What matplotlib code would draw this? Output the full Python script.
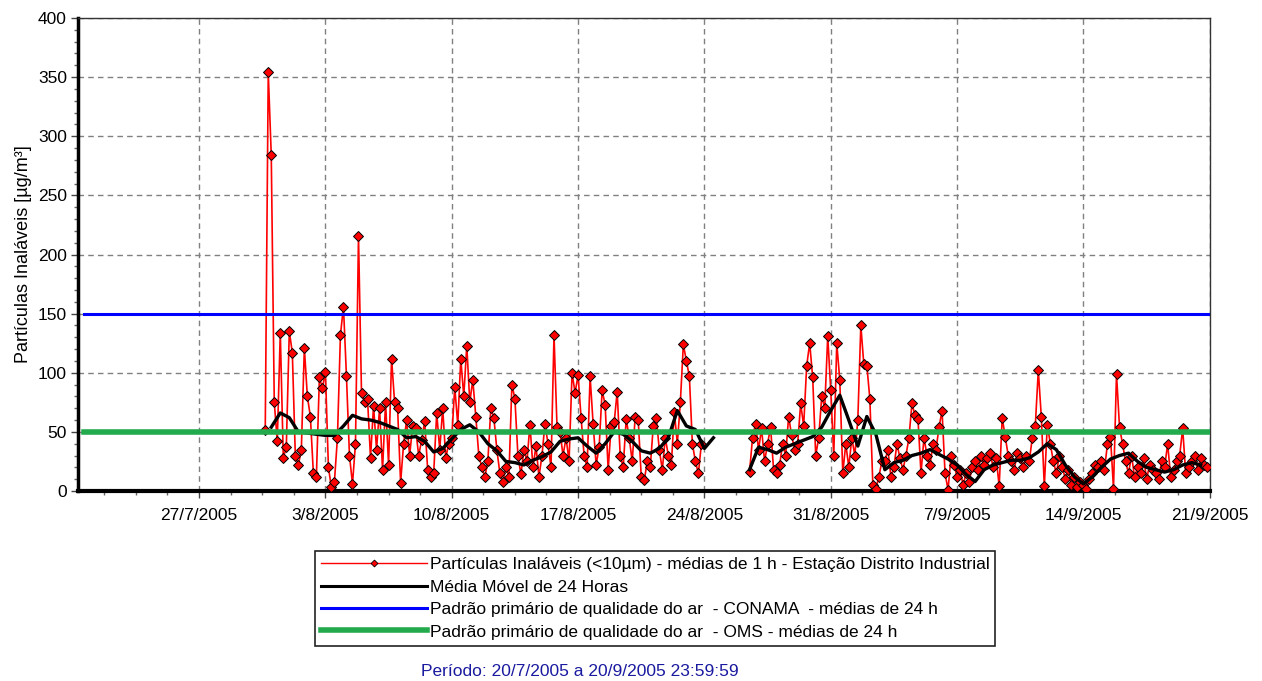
import matplotlib
matplotlib.use("Agg")
import matplotlib.pyplot as plt
import matplotlib.dates as mdates
from matplotlib.lines import Line2D
from matplotlib.ticker import FixedLocator, MultipleLocator
import numpy as np
import pandas as pd

plt.rcParams['font.family'] = ['Liberation Sans', 'DejaVu Sans']

# hourly PM10 readings at 4 h steps
red_start_a = "2005-07-30 16:00"
red_a = [
    52, 354,
    284, 75, 42, 134, 28, 37,
    135, 117, 30, 22, 35, 121,
    80, 63, 15, 12, 96, 87,
    101, 20, 3, 8, 45, 132,
    156, 97, 30, 6, 40, 216,
    83, 75, 78, 28, 72, 35,
    70, 18, 75, 22, 112, 75,
    70, 7, 40, 60, 30, 55,
    53, 30, 43, 59, 18, 12,
    15, 66, 35, 70, 28, 40,
    45, 88, 56, 112, 80, 123,
    75, 94, 63, 30, 20, 12,
    25, 70, 62, 35, 15, 8,
    20, 12, 90, 78, 30, 14,
    35, 25, 56, 20, 38, 12,
    30, 57, 40, 20, 132, 54,
    50, 30, 45, 25, 100, 83,
    98, 62, 30, 20, 97, 57,
    22, 37, 85, 73, 18, 55,
    58, 84, 30, 20, 61, 45,
    25, 63, 60, 12, 9, 25,
    20, 55, 62, 35, 18, 45,
    30, 22, 67, 40, 75, 124,
    110, 97, 40, 25, 15, 40,
]
red_start_b = "2005-08-26 12:00"
red_b = [
    16, 45, 57,
    35, 53, 25, 40, 54, 18,
    15, 22, 40, 30, 63, 47,
    35, 40, 74, 55, 106, 125,
    96, 30, 45, 80, 70, 131,
    85, 30, 125, 94, 15, 40,
    20, 45, 30, 60, 140, 107,
    106, 78, 5, 2, 12, 25,
    25, 35, 12, 20, 40, 28,
    18, 30, 45, 74, 64, 61,
    15, 45, 30, 22, 40, 35,
    54, 68, 15, 1, 30, 22,
    12, 18, 5, 15, 8, 20,
    25, 18, 30, 22, 28, 32,
    20, 28, 4, 62, 46, 30,
    25, 18, 32, 28, 20, 30,
    25, 45, 55, 102, 63, 4,
    56, 40, 25, 15, 30, 20,
    10, 18, 5, 12, 3, 8,
    5, 2, 10, 15, 22, 20,
    25, 18, 40, 46, 2, 99,
    54, 40, 25, 15, 30, 12,
    20, 15, 28, 10, 22, 18,
    15, 10, 25, 20, 40, 12,
    18, 25, 30, 53, 15, 20,
    25, 30, 18, 28, 22, 20,
]

# 24 h moving average, read at 12 h steps
avg_start_a = "2005-07-31 00:00"
avg_a = [54, 66, 62, 50, 49, 48, 47, 47, 55, 64, 61, 60, 58, 55, 52, 45,
         46, 42, 33, 36, 44, 52, 56, 50, 40, 34, 25, 24, 22, 26, 29, 33,
         42, 44, 45, 38, 32, 40, 50, 48, 42, 34, 32, 36, 45, 68, 55, 52,
         36, 45]
avg_start_b = "2005-08-26 12:00"
avg_b = [18, 37, 35, 32, 37, 40, 43, 46, 54, 68, 81, 60, 38, 63, 48, 18,
         24, 26, 30, 32, 35, 31, 27, 22, 14, 8, 18, 22, 24, 26, 26, 28,
         33, 40, 35, 22, 12, 6, 12, 20, 27, 30, 32, 25, 20, 18, 16, 18,
         22, 24, 22]

conama_limit = 150
oms_limit = 50

week_ticks = ["2005-07-27", "2005-08-03", "2005-08-10", "2005-08-17",
              "2005-08-24", "2005-08-31", "2005-09-07", "2005-09-14",
              "2005-09-21"]
week_labels = ["27/7/2005", "3/8/2005", "10/8/2005", "17/8/2005",
               "24/8/2005", "31/8/2005", "7/9/2005", "14/9/2005",
               "21/9/2005"]
legend_labels = [
    "Partículas Inaláveis (<10µm) - médias de 1 h - Estação Distrito Industrial",
    "Média Móvel de 24 Horas",
    "Padrão primário de qualidade do ar  - CONAMA  - médias de 24 h",
    "Padrão primário de qualidade do ar  - OMS - médias de 24 h",
]
period_text = "Período: 20/7/2005 a 20/9/2005 23:59:59"


def join_segments(start_a, vals_a, start_b, vals_b, freq):
    ta = pd.date_range(start_a, periods=len(vals_a), freq=freq)
    tb = pd.date_range(start_b, periods=len(vals_b), freq=freq)
    gap = ta[-1] + (tb[0] - ta[-1]) / 2
    t = np.concatenate([ta.to_numpy(), [np.datetime64(gap)], tb.to_numpy()])
    v = np.concatenate([vals_a, [np.nan], vals_b]).astype(float)
    return t, v


t_red, v_red = join_segments(red_start_a, red_a, red_start_b, red_b, "4h")
t_avg, v_avg = join_segments(avg_start_a, avg_a, avg_start_b, avg_b, "12h")

fig = plt.figure(figsize=(12.62, 6.81), dpi=100)
ax = fig.add_axes([78 / 1262, 1 - 491 / 681, 1132 / 1262, 473 / 681])

ax.plot(t_red, v_red, color='red', lw=1.2, marker='D', markersize=5,
        mfc='red', mec='black', mew=0.7, zorder=3)
ax.plot(t_avg, v_avg, color='black', lw=2.4, zorder=4)
ax.axhline(conama_limit, xmin=0.005, color='#0000ff', lw=2.2, zorder=5)
ax.axhline(oms_limit, xmin=0.005, color='#22aa4c', lw=4, zorder=5)

ax.set_xlim(pd.Timestamp("2005-07-20 07:00"), pd.Timestamp("2005-09-21 00:20"))
ax.set_ylim(0, 400)

major = mdates.date2num(pd.to_datetime(week_ticks))
ax.xaxis.set_major_locator(FixedLocator(major))
ax.set_xticklabels(week_labels)
ax.xaxis.set_minor_locator(FixedLocator(major[0] + np.arange(-4, 33) * 1.75))
ax.yaxis.set_major_locator(MultipleLocator(50))
ax.yaxis.set_minor_locator(MultipleLocator(10))

ax.tick_params(which='major', direction='out', length=5, width=1,
               labelsize=12.5, color='#444444')
ax.tick_params(which='minor', direction='out', length=3, width=1,
               color='#666666')
ax.tick_params(axis='x', pad=7)
ax.tick_params(axis='y', pad=3)

ax.grid(True, which='major', linestyle=(0, (4, 3)), color='#808080', lw=1)
ax.set_axisbelow(True)

ax.spines['left'].set_linewidth(2.5)
ax.spines['bottom'].set_linewidth(3)
ax.spines['top'].set_linewidth(1)
ax.spines['right'].set_linewidth(1)
ax.spines['top'].set_color('#333333')
ax.spines['right'].set_color('#333333')

ax.set_ylabel('Partículas Inaláveis [µg/m³]', fontsize=13, labelpad=4)

handles = [
    Line2D([], [], color='red', lw=1, marker='D', markersize=3.5,
           mfc='red', mec='black', mew=0.6),
    Line2D([], [], color='black', lw=2.2),
    Line2D([], [], color='#0000ff', lw=2.2),
    Line2D([], [], color='#22aa4c', lw=4),
]
leg = fig.legend(handles, legend_labels, loc='upper left',
                 bbox_to_anchor=(315 / 1262, 1 - 551 / 681),
                 frameon=True, fancybox=False, edgecolor='#222222',
                 framealpha=1, fontsize=12.5, handlelength=6.1,
                 handletextpad=0.15, borderpad=0.35, labelspacing=0.42,
                 borderaxespad=0)
leg.get_frame().set_linewidth(1.2)

fig.text(580 / 1262, 1 - 672 / 681, period_text, color='#1a1aa0',
         fontsize=12.5, ha='center', va='center')

fig.savefig('out.png', dpi=100)
